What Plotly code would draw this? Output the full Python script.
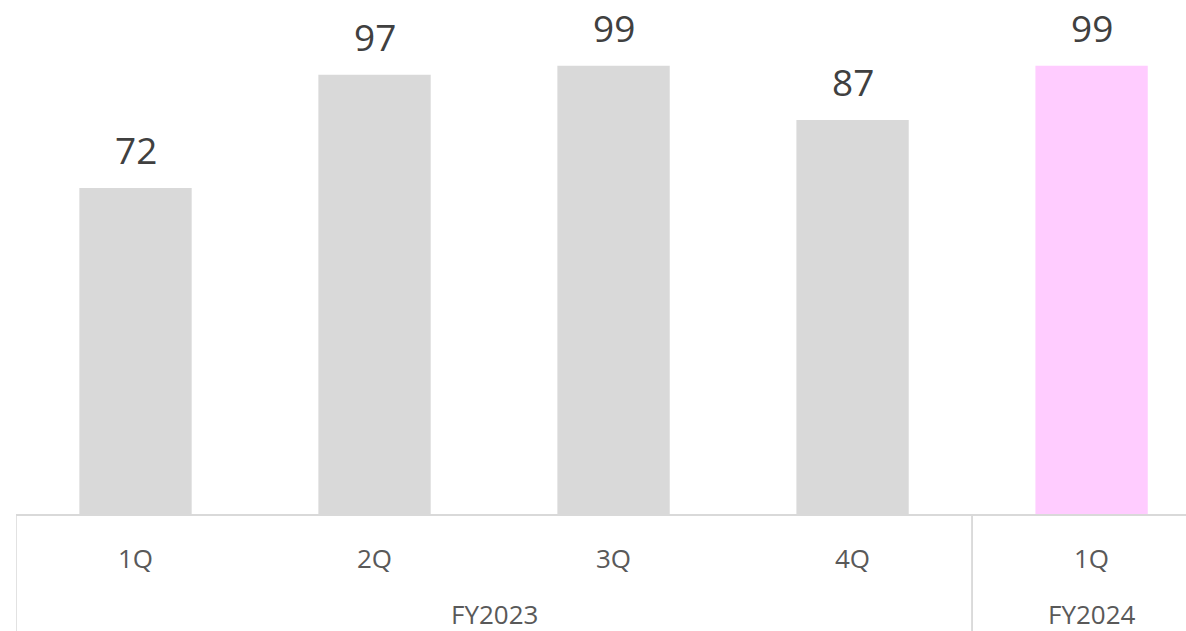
import plotly.graph_objects as go

quarters = ["1Q", "2Q", "3Q", "4Q", "1Q"]
years = ["FY2023", "FY2023", "FY2023", "FY2023", "FY2024"]
values = [72, 97, 99, 87, 99]
colors = ["#d9d9d9", "#d9d9d9", "#d9d9d9", "#d9d9d9", "#ffccff"]

xs = list(range(len(values)))
fig = go.Figure()
fig.add_trace(go.Bar(x=xs, y=values, marker=dict(color=colors, line=dict(width=0)),
                     width=0.47, hoverinfo="skip"))

font_main = "Open Sans"
# data labels
for x, v in zip(xs, values):
    fig.add_annotation(x=x, y=v, text=str(v), showarrow=False, yanchor="bottom",
                       yshift=11, font=dict(family=font_main, size=37, color="#404040"))
# quarter labels
for x, q in zip(xs, quarters):
    fig.add_annotation(x=x, y=0, yref="y", text=q, showarrow=False, yanchor="middle",
                       yshift=-44, font=dict(family=font_main, size=26, color="#595959"))
# year group labels
groups = []
for i, yv in enumerate(years):
    if not groups or groups[-1][0] != yv:
        groups.append([yv, i, i])
    else:
        groups[-1][2] = i
for name, a, b in groups:
    fig.add_annotation(x=(a + b) / 2, y=0, yref="y", text=name, showarrow=False,
                       yanchor="middle", yshift=-100,
                       font=dict(family=font_main, size=26, color="#595959"))
    # divider lines at group edges
    for edge in (a - 0.5, b + 0.5):
        fig.add_shape(type="line", x0=edge, x1=edge, xref="x", y0=0, y1=-117 / 514,
                      yref="paper", line=dict(color="#d9d9d9", width=1.5))

fig.update_layout(
    width=1186, height=631,
    margin=dict(l=16, r=0, t=0, b=117),
    plot_bgcolor="white", paper_bgcolor="white",
    showlegend=False,
    xaxis=dict(range=[-0.5, 4.395], showticklabels=False, showgrid=False, zeroline=False,
               showline=True, linecolor="#d9d9d9", linewidth=1.5, ticks=""),
    yaxis=dict(range=[0, 113.5], visible=False),
)
fig.write_html("out.html", config={"displayModeBar": False},
               post_script="document.body.style.margin='0';document.body.style.overflow='hidden';")
